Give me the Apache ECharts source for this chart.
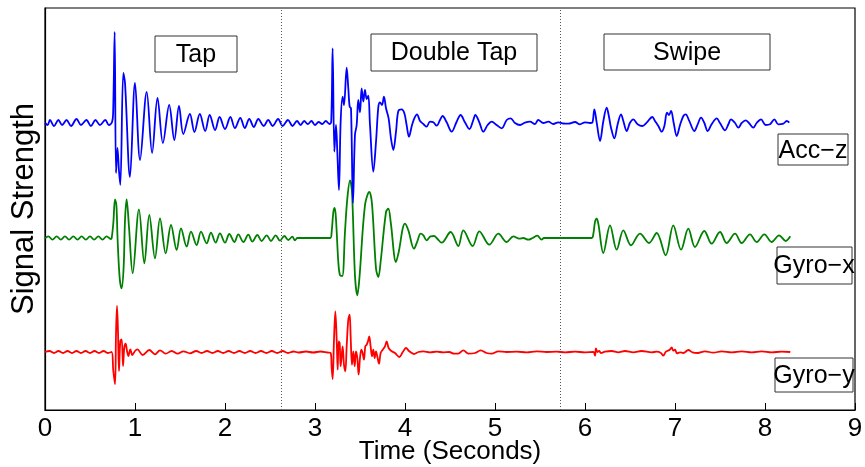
<!DOCTYPE html>
<html>
<head>
<meta charset="utf-8">
<script src="https://cdn.jsdelivr.net/npm/echarts@6/dist/echarts.min.js"></script>
<style>
  html, body { margin: 0; padding: 0; background: #fff; }
  #chart { width: 865px; height: 467px; }
</style>
</head>
<body>
<div id="chart"></div>
<script>
// Sensor traces: [time (s), deflection from the channel's resting level]
const accZ = [
  [0,0],[0.03,-2],[0.055,3],[0.1,-3],[0.148,3],[0.19,-2],[0.24,3],[0.29,-3],[0.35,4],[0.4,-2],[0.46,3],[0.51,-3],[0.56,3],[0.61,-2],[0.67,3],[0.71,-2],[0.745,1],
  [0.757,10],[0.774,91],[0.789,-50],[0.805,-25],[0.822,-48],[0.837,-62],[0.87,50],[0.889,40],[0.944,-54],[1.0,40],[1.056,-37],[1.13,31],[1.19,-30],[1.25,25],[1.31,-20],[1.38,18],[1.437,-17],[1.489,17],[1.537,-11],
  [1.61,9],[1.66,-9],[1.72,9],[1.78,-8],[1.83,8],[1.89,-7],[1.94,6],[2.0,-6],[2.06,6],[2.11,-5],[2.17,5],[2.22,-5],[2.27,4],[2.32,-4],[2.37,4],[2.43,-3],[2.48,3],[2.53,-3],[2.59,4],[2.64,-3],[2.7,3],[2.75,-3],
  [2.8,2],[2.84,-2],[2.88,2],[2.92,-1],[2.96,2],[3.0,-2],[3.04,1],[3.08,-1],[3.12,2],[3.16,-1],[3.18,1],
  [3.196,74.7],[3.215,-28.7],[3.233,-2],[3.248,-28.7],[3.266,-67],[3.285,1.3],[3.307,26.3],[3.322,18],[3.352,55.3],[3.37,34.7],[3.385,16.3],[3.4,14.7],[3.422,-80],[3.444,-12],[3.463,-2],[3.481,23],[3.5,10.7],[3.518,34.7],[3.537,21.3],[3.555,33],[3.574,24],[3.592,27.3],[3.611,-2],[3.648,-48.7],[3.678,-18.7],[3.704,16.3],[3.722,20.7],[3.744,18],[3.766,26.3],[3.789,14.7],[3.818,4.7],[3.844,-15.3],[3.87,-27],[3.9,-8.7],[3.926,12],[3.963,13.7],[3.993,9.7],[4.018,-2],[4.044,-13.7],[4.078,-2],[4.107,5.3],[4.133,8.7],[4.167,2],[4.204,-1],[4.24,-3.7],[4.278,1.3],[4.315,0.7],[4.352,-2.7],[4.389,3],[4.418,7],[4.463,0.7],[4.518,-8.7],[4.574,1.3],[4.618,8],[4.666,0.7],[4.715,-6],[4.759,3],[4.781,8],[4.826,0.7],[4.87,-8.7],[4.918,-2],[4.963,1.3],[5.018,-2],[5.074,-5.3],[5.13,3],[5.174,4.7],[5.222,0],[5.278,-2],[5.333,0.3],[5.389,1.3],[5.444,-1],[5.481,3],[5.537,0],[5.593,1.3],[5.648,-1],[5.703,0.7],[5.759,-0.5],
  [5.815,-0.7],[5.889,1],[5.944,-1.3],[6.0,0.7],[6.056,0],[6.081,0.3],[6.104,13.7],[6.13,0.3],[6.167,-18],[6.204,2],[6.241,15.3],[6.267,6],[6.289,-4.7],[6.326,-15.3],[6.363,-1.3],[6.4,8.7],[6.426,2],[6.463,-8],[6.5,0.3],[6.537,3.7],[6.585,-1.3],[6.637,-3],[6.685,0.3],[6.748,6],[6.778,2],[6.815,-3],[6.852,-8.7],[6.882,-3],[6.911,10.3],[6.933,8],[6.956,12],[6.985,0.3],[7.019,-13],[7.056,-2],[7.093,7],[7.119,8.7],[7.156,2.7],[7.215,-8],[7.252,-1.3],[7.289,5.3],[7.326,0],[7.363,-8],[7.407,-1.3],[7.463,4.7],[7.5,0],[7.556,-7.3],[7.593,-1.3],[7.622,3.7],[7.667,0],[7.704,-4.7],[7.741,0],[7.785,2.7],[7.822,0],[7.87,-4.7],[7.907,0],[7.956,3.7],[8.007,-2],[8.056,-1.3],[8.104,3.7],[8.148,-1.3],[8.204,-0.7],[8.241,2],[8.27,0.3]
];

const gyroX = [
  [0,0],[0.037,1.7],[0.083,-1.7],[0.13,1.7],[0.176,-1.7],[0.222,1.7],[0.268,-1.7],[0.315,1.7],[0.361,-1.7],[0.407,1.7],[0.454,-1.7],[0.5,1.7],[0.546,-1.7],[0.593,1.7],[0.639,-1.7],[0.685,1.7],[0.731,-1],[0.741,0],
  [0.759,14.7],[0.778,38.7],[0.793,33],[0.807,-2],[0.83,-40.3],[0.852,-50.3],[0.874,-28.7],[0.889,18],[0.907,38.7],[0.933,11.3],[0.974,-35.3],[1.044,28.7],[1.104,-25.3],[1.159,23],[1.222,-20.3],[1.278,19.7],[1.341,-15.3],[1.4,13],[1.463,-12],[1.511,9.7],[1.574,-8.7],[1.622,6.3],[1.685,-7],[1.733,6.3],[1.796,-5.3],[1.844,5.3],[1.896,-4.7],[1.944,4.7],[2.0,-4.7],[2.048,4],[2.104,-4],[2.148,3.7],[2.204,-4],[2.259,3.3],[2.304,-3.7],[2.359,3],[2.407,-3],[2.463,2.7],[2.511,-3],[2.563,2.7],[2.611,-2.7],[2.659,2],[2.704,-2],[2.748,1.3],[2.778,-2.3],[2.803,0],
  [3.17,0],[3.185,6],[3.204,26],[3.219,30],[3.233,19.3],[3.259,-24],[3.278,-37.3],[3.303,-38],[3.333,6],[3.359,39.3],[3.389,57.7],[3.411,46],[3.444,-37.3],[3.47,-57.3],[3.493,-40.7],[3.555,32.7],[3.604,46],[3.633,34.3],[3.678,-30.7],[3.704,-39],[3.729,-24],[3.789,26],[3.815,29.3],[3.841,16],[3.9,-24],[3.926,-15.7],[4.0,14.3],[4.037,7.7],[4.1,-10.7],[4.137,-3.3],[4.174,4.3],[4.204,2.7],[4.24,-2.3],[4.285,1.7],[4.322,2],[4.359,-0.7],[4.407,-4.7],[4.507,6],[4.592,-8],[4.648,7.7],[4.752,-8],[4.826,6.7],[4.937,-6.7],[5.037,4.3],[5.13,-4],[5.204,1.7],[5.27,-0.7],[5.315,0],[5.37,-1.7],[5.418,0],[5.47,2.3],[5.518,-1.7],[5.544,0],
  [6.074,0],[6.093,4.3],[6.111,16],[6.13,19.3],[6.148,14.3],[6.204,-15],[6.278,12.7],[6.352,-11.7],[6.426,7.7],[6.511,-7.3],[6.611,4.3],[6.711,-5],[6.796,5],[6.896,-17.3],[6.981,12.7],[7.067,-11.7],[7.148,9.3],[7.222,-9],[7.326,7],[7.407,-5.7],[7.5,6],[7.574,-5],[7.667,4.3],[7.741,-5],[7.833,3.7],[7.907,-4],[7.993,3.7],[8.074,-4],[8.156,2.7],[8.23,-3],[8.281,1.7]
];

const gyroY = [
  [0,0],[0.05,1],[0.1,-1],[0.15,1],[0.2,-1],[0.25,1],[0.3,-1],[0.35,1],[0.4,-1],[0.45,1],[0.5,-1],[0.55,1],[0.6,-1],[0.65,1],[0.7,-1],[0.74,0],
  [0.759,-19],[0.778,-32.3],[0.789,17.7],[0.8,46],[0.811,21],[0.822,-19],[0.837,11],[0.852,12.7],[0.867,-14],[0.881,4.3],[0.896,8.3],[0.911,1],[0.926,-4],[0.948,2.7],[0.97,-3],[1.0,1],[1.026,2.7],[1.085,-3],[1.159,2],[1.222,-2.3],[1.278,1.7],[1.341,-1.7],[1.407,1],[1.474,-1.7],[1.537,0.7],[1.611,-1.3],
  [1.68,1],[1.74,-1],[1.8,1],[1.86,-1],[1.92,1],[1.98,-1],[2.04,1],[2.1,-1],[2.16,1],[2.22,-1],[2.28,1],[2.34,-1],[2.4,1],[2.46,-1],[2.52,1],[2.58,-1],[2.64,1],[2.7,-1],[2.76,0.5],[2.82,-0.5],[2.9,0.5],[2.98,-0.5],[3.06,0.5],[3.14,-0.5],
  [3.174,-1],[3.185,-16],[3.196,-27],[3.211,12.3],[3.226,40.7],[3.241,12.3],[3.252,-17.7],[3.263,10.7],[3.274,9],[3.285,-14.3],[3.296,-4.3],[3.307,5.7],[3.322,-12.7],[3.337,-19.3],[3.352,5.7],[3.37,32.3],[3.385,37.3],[3.396,15.7],[3.411,-12.7],[3.426,0.7],[3.441,-14.3],[3.455,0.7],[3.47,-6],[3.485,-22.7],[3.5,-6],[3.515,2.3],[3.529,-1],[3.544,-7.7],[3.559,5.7],[3.574,7.3],[3.589,10.7],[3.603,15.7],[3.618,5.7],[3.633,-4.3],[3.648,2.3],[3.663,-6],[3.678,0.7],[3.692,-4.3],[3.711,-11.7],[3.729,-1],[3.752,2.3],[3.778,5.7],[3.796,10.7],[3.818,4],[3.852,0.7],[3.889,-1],[3.937,-5],[3.974,-0.3],[4.011,4],[4.048,0.7],[4.1,-2],[4.148,0],[4.204,0.7],[4.278,-0.3],[4.352,0.3],[4.426,-0.3],[4.492,0],[4.544,-1.7],[4.592,-1.7],[4.648,1.7],[4.704,-1.7],[4.778,-1],[4.841,1.7],[4.907,-1],[4.963,-1.7],[5.037,0.7],[5.13,0],[5.24,0.3],[5.352,-0.3],[5.463,0.7],[5.574,0],[5.685,0.3],
  [5.778,-0.3],[5.889,0.3],[6.0,-0.3],[6.093,0],[6.111,-3.7],[6.122,3.7],[6.137,0],[6.156,1],[6.178,-1],[6.222,0.3],[6.296,1],[6.37,-0.3],[6.444,1],[6.537,-0.3],[6.63,1],[6.741,-0.3],[6.796,0.3],[6.844,-1],[6.87,-3.7],[6.896,0],[6.919,1.3],[6.941,2.3],[6.963,4.7],[6.981,1.3],[7.0,2.3],[7.022,-1.3],[7.056,-0.3],[7.093,-1],[7.148,2],[7.193,-0.3],[7.252,-1],[7.333,0.7],[7.426,-0.7],[7.519,0.7],[7.63,-0.3],[7.741,0.7],[7.852,-0.3],[7.963,0.7],[8.074,-0.3],[8.185,0.3],[8.281,0]
];

// Resting level of each channel on the shared vertical scale
const channelNames = ['Acc\u2212z', 'Gyro\u2212x', 'Gyro\u2212y'];
const channelLevels = [287, 172, 58];
const channelColors = ['#0000ff', '#008000', '#ff0000'];

// Gesture boundaries and gesture names
const gestureBounds = [2.63, 5.72];
const gestureNames = ['Tap', 'Double Tap', 'Swipe'];

const xTicks = [0, 1, 2, 3, 4, 5, 6, 7, 8, 9];

const FONT = "'Liberation Sans', Arial, Helvetica, sans-serif";

const traces = [accZ, gyroX, gyroY];

const series = traces.map((trace, i) => ({
  name: channelNames[i],
  type: 'line',
  data: trace.map(p => [p[0], p[1] + channelLevels[i]]),
  showSymbol: false,
  smooth: 0.35,
  lineStyle: { color: channelColors[i], width: 1.8 },
  itemStyle: { color: channelColors[i] },
  animation: false,
  z: 3 - i
}));

// dotted separators between gestures
series.push({
  type: 'line',
  data: [],
  silent: true,
  markLine: {
    silent: true,
    symbol: ['none', 'none'],
    label: { show: false },
    lineStyle: { color: '#555', type: [1, 2], width: 1 },
    data: gestureBounds.map(b => ({ xAxis: b }))
  },
  animation: false
});

const chart = echarts.init(document.getElementById('chart'), null, { renderer: 'canvas' });

// Boxed annotations
const gestureBoxes = [
  { x: 155, y: 36, w: 82, h: 36 },
  { x: 371, y: 34, w: 166, h: 37 },
  { x: 604, y: 34, w: 166, h: 36 }
];
const channelBoxes = [
  { x: 778, y: 134, w: 70, h: 31, tx: 813, ty: 151 },
  { x: 777, y: 247, w: 75, h: 37, tx: 814, ty: 266 },
  { x: 775, y: 358, w: 78, h: 34, tx: 814, ty: 376 }
];

const graphics = [];
gestureBoxes.forEach((b, i) => {
  graphics.push({
    type: 'rect', shape: { x: b.x, y: b.y, width: b.w, height: b.h },
    style: { fill: '#fff', stroke: '#333', lineWidth: 1 }, z: 10
  });
  graphics.push({
    type: 'text', x: b.x + b.w / 2, y: b.y + b.h / 2 + 1,
    style: { text: gestureNames[i], font: '25px ' + FONT, fill: '#000', align: 'center', verticalAlign: 'middle' },
    z: 11
  });
});
channelBoxes.forEach((b, i) => {
  graphics.push({
    type: 'rect', shape: { x: b.x, y: b.y, width: b.w, height: b.h },
    style: { fill: '#fff', stroke: '#333', lineWidth: 1 }, z: 10
  });
  graphics.push({
    type: 'text', x: b.tx, y: b.ty,
    style: { text: channelNames[i], font: '25px ' + FONT, fill: '#000', align: 'center', verticalAlign: 'middle' },
    z: 11
  });
});

chart.setOption({
  backgroundColor: '#fff',
  animation: false,
  grid: {
    left: 45, right: 10, top: 8, bottom: 57,
    outerBoundsMode: 'none', containLabel: false,
    show: true, borderColor: '#000', borderWidth: 1.2, backgroundColor: 'transparent'
  },
  xAxis: {
    type: 'value', min: 0, max: 9, interval: 1,
    name: 'Time (Seconds)', nameLocation: 'middle', nameGap: 29, nameMoveOverlap: false,
    nameTextStyle: { fontFamily: FONT, fontSize: 26, color: '#000' },
    axisLine: { show: true, lineStyle: { color: '#000', width: 1.2 } },
    axisTick: { show: true, inside: true, length: 7, lineStyle: { color: '#000' } },
    axisLabel: {
      fontFamily: FONT, fontSize: 26, color: '#000', margin: 6,
      formatter: v => (xTicks.indexOf(v) >= 0 ? String(v) : '')
    },
    splitLine: { show: false }
  },
  yAxis: {
    type: 'value', min: 0, max: 402,
    name: 'Signal Strength', nameLocation: 'middle', nameGap: 5, nameRotate: 90, nameMoveOverlap: false,
    nameTextStyle: { fontFamily: FONT, fontSize: 31, color: '#000' },
    axisLine: { show: true, lineStyle: { color: '#000', width: 1.2 } },
    axisTick: { show: false },
    axisLabel: { show: false },
    splitLine: { show: false }
  },
  series: series,
  graphic: graphics
});
</script>
</body>
</html>
